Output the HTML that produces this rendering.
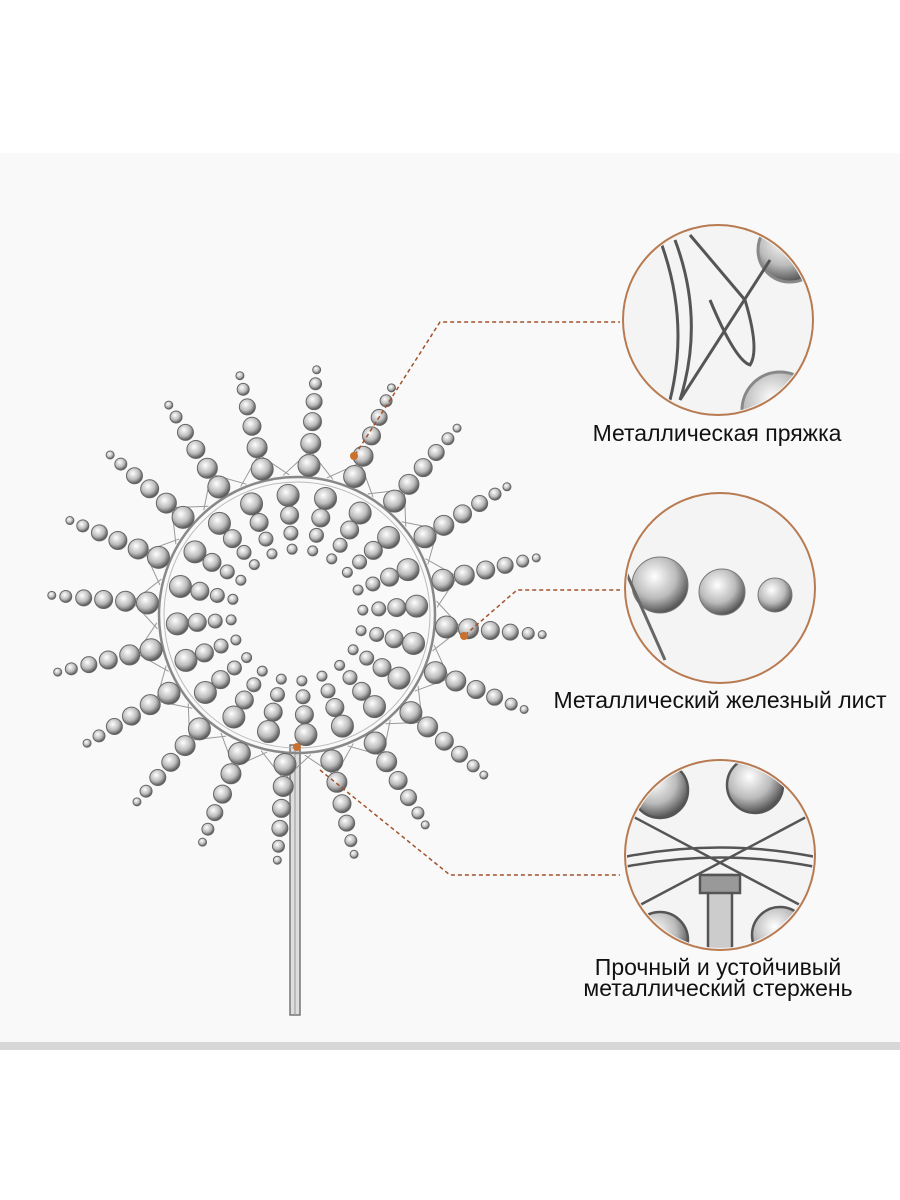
<!DOCTYPE html>
<html><head><meta charset="utf-8"><style>
html,body{margin:0;padding:0;background:#fff;}
body{width:900px;height:1200px;position:relative;overflow:hidden;font-family:"Liberation Sans",sans-serif;}
.panel{position:absolute;left:0;top:153px;width:900px;height:889px;background:#f9f9f9;}
.bar{position:absolute;left:0;top:1042px;width:900px;height:8px;background:#d6d7d6;}
.lbl{position:absolute;color:#111;font-size:23px;text-align:center;line-height:21px;}
svg{position:absolute;left:0;top:0;}
</style></head><body>
<div class="panel"></div><div class="bar"></div>
<svg id="s" width="900" height="1200" viewBox="0 0 900 1200">
<defs>
<radialGradient id="g" cx="40%" cy="35%" r="65%"><stop offset="0" stop-color="#fff"/><stop offset="0.6" stop-color="#bbb"/><stop offset="1" stop-color="#555"/></radialGradient>
<clipPath id="c1"><circle cx="718" cy="320" r="93"/></clipPath>
<clipPath id="c2"><circle cx="720" cy="588" r="93"/></clipPath>
<clipPath id="c3"><circle cx="720" cy="855" r="93"/></clipPath>
</defs>
<rect x="290" y="745" width="10" height="270" fill="#ddd" stroke="#777" stroke-width="1.5"/>
<line x1="295" y1="745" x2="295" y2="1015" stroke="#999" stroke-width="1"/>
<g id="spin"></g>
<g fill="none" stroke="#a0522d" stroke-width="1.5" stroke-dasharray="4,3">
<polyline points="355,455 440,322 620,322"/>
<polyline points="465,635 517,590 620,590"/>
<polyline points="320,770 450,875 620,875"/>
</g>
<circle cx="354" cy="456" r="4" fill="#c8702c"/>
<circle cx="464" cy="636" r="4" fill="#c8702c"/>
<circle cx="297" cy="747" r="4" fill="#c8702c"/>
<circle cx="718" cy="320" r="95" fill="#f4f4f4" stroke="#b87a50" stroke-width="2"/>
<g clip-path="url(#c1)" fill="none" stroke="#555" stroke-width="3">
<circle cx="790" cy="250" r="32" fill="url(#g)" stroke="#888"/>
<circle cx="780" cy="410" r="38" fill="url(#g)" stroke="#888"/>
<path d="M660 240 Q690 320 670 400"/><path d="M675 240 Q705 320 680 400"/>
<path d="M690 235 L745 300 Q760 350 750 365 Q735 360 710 300"/>
<path d="M680 400 L770 260"/>
</g>
<circle cx="720" cy="588" r="95" fill="#f4f4f4" stroke="#b87a50" stroke-width="2"/>
<g clip-path="url(#c2)">
<circle cx="660" cy="585" r="28" fill="url(#g)" stroke="#777"/>
<circle cx="722" cy="592" r="23" fill="url(#g)" stroke="#777"/>
<circle cx="775" cy="595" r="17" fill="url(#g)" stroke="#777"/>
<path d="M625 570 L665 660" stroke="#666" stroke-width="3" fill="none"/>
</g>
<circle cx="720" cy="855" r="95" fill="#f4f4f4" stroke="#b87a50" stroke-width="2"/>
<g clip-path="url(#c3)" fill="none" stroke="#555" stroke-width="2.5">
<circle cx="660" cy="790" r="28" fill="url(#g)"/><circle cx="755" cy="785" r="28" fill="url(#g)"/>
<circle cx="660" cy="940" r="28" fill="url(#g)"/><circle cx="780" cy="935" r="28" fill="url(#g)"/>
<path d="M610 860 Q720 835 830 860"/><path d="M610 870 Q720 845 830 870"/>
<path d="M630 815 L800 905"/><path d="M810 815 L640 905"/>
<rect x="708" y="875" width="24" height="90" fill="#ccc"/>
<rect x="700" y="875" width="40" height="18" fill="#999"/>
</g>
</svg>
<div class="lbl" style="left:517px;top:423px;width:400px;">Металлическая пряжка</div>
<div class="lbl" style="left:500px;top:690px;width:440px;">Металлический железный лист</div>
<div class="lbl" style="left:518px;top:957px;width:400px;">Прочный и устойчивый<br>металлический стержень</div>
<script>
var ns="http://www.w3.org/2000/svg",g=document.getElementById("spin"),cx=297,cy=615;
function el(t,a){var e=document.createElementNS(ns,t);for(var k in a)e.setAttribute(k,a[k]);g.appendChild(e);return e;}
el("circle",{cx:cx,cy:cy,r:138,fill:"none",stroke:"#888","stroke-width":2.5});
el("circle",{cx:cx,cy:cy,r:133,fill:"none",stroke:"#bbb","stroke-width":1});
for(var i=0;i<20;i++){var a=i/20*2*Math.PI+0.08,c=Math.cos(a),s=Math.sin(a);
 el("polyline",{points:(cx+c*138-s*25)+","+(cy+s*138+c*25)+" "+(cx+c*165)+","+(cy+s*165)+" "+(cx+c*138+s*25)+","+(cy+s*138-c*25),fill:"none",stroke:"#999","stroke-width":1});
 var rs=[150,172,194,214,232,246],sz=[11,10,9,8,6,4];
 for(var j=0;j<6;j++)el("circle",{cx:cx+c*rs[j],cy:cy+s*rs[j],r:sz[j],fill:"url(#g)",stroke:"#666","stroke-width":1});
 var b=a+0.16,cb=Math.cos(b),sb=Math.sin(b),ri=[120,100,82,66];
 for(var j=0;j<4;j++)el("circle",{cx:cx+cb*ri[j],cy:cy+sb*ri[j],r:11-j*2,fill:"url(#g)",stroke:"#666","stroke-width":1});
}
</script>
</body></html>
